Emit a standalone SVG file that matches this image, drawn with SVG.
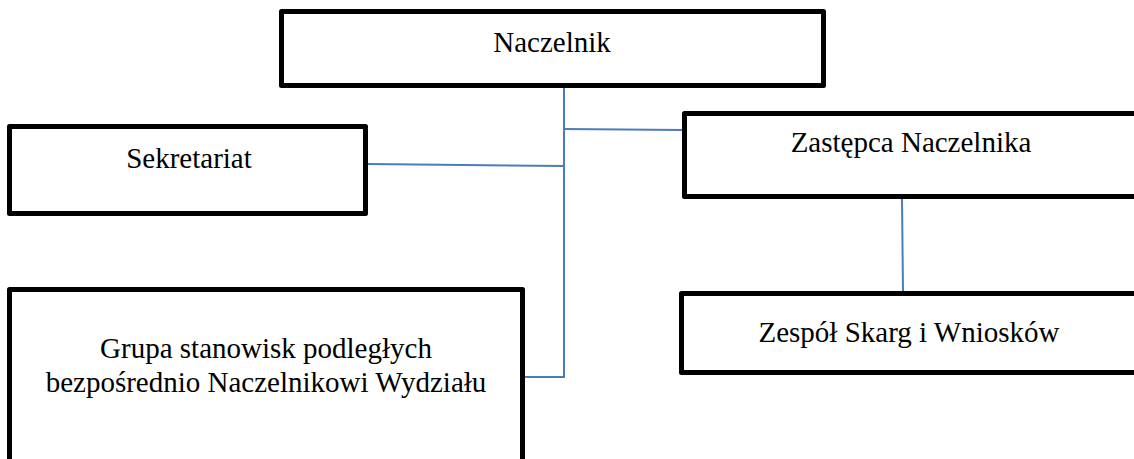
<svg xmlns="http://www.w3.org/2000/svg" width="1134" height="459" viewBox="0 0 1134 459">
<style>
.box{fill:#fff;stroke:#000;stroke-width:5;stroke-linejoin:round}
.lbl{font-family:"Liberation Serif","Times New Roman",serif;font-size:29px;fill:#000;text-anchor:middle}
.con{stroke:#4a7cc0;stroke-width:2;fill:none}
</style>
<rect width="1134" height="459" fill="#fff"/>
<g id="connectors">
<line class="con" x1="564" y1="88" x2="564" y2="378"/>
<line class="con" x1="564" y1="129" x2="682" y2="130"/>
<line class="con" x1="368" y1="164" x2="564" y2="166"/>
<line class="con" x1="524" y1="377" x2="565" y2="377"/>
<line class="con" x1="902" y1="199" x2="903" y2="291"/>
</g>
<g id="naczelnik">
<rect class="box" x="281.5" y="11.5" width="542" height="74"/>
<text class="lbl" x="552" y="52">Naczelnik</text>
</g>
<g id="sekretariat">
<rect class="box" x="9.5" y="126.5" width="356" height="87"/>
<text class="lbl" x="189" y="168">Sekretariat</text>
</g>
<g id="zastepca">
<rect class="box" x="684.5" y="113.5" width="460" height="83"/>
<text class="lbl" x="911" y="152">Zastępca Naczelnika</text>
</g>
<g id="grupa">
<rect class="box" x="9.5" y="289.5" width="513" height="180"/>
<text class="lbl" x="266" y="358">Grupa stanowisk podległych</text>
<text class="lbl" x="266" y="392">bezpośrednio Naczelnikowi Wydziału</text>
</g>
<g id="zespol">
<rect class="box" x="681.5" y="293.5" width="460" height="79"/>
<text class="lbl" x="909" y="342">Zespół Skarg i Wniosków</text>
</g>
</svg>
